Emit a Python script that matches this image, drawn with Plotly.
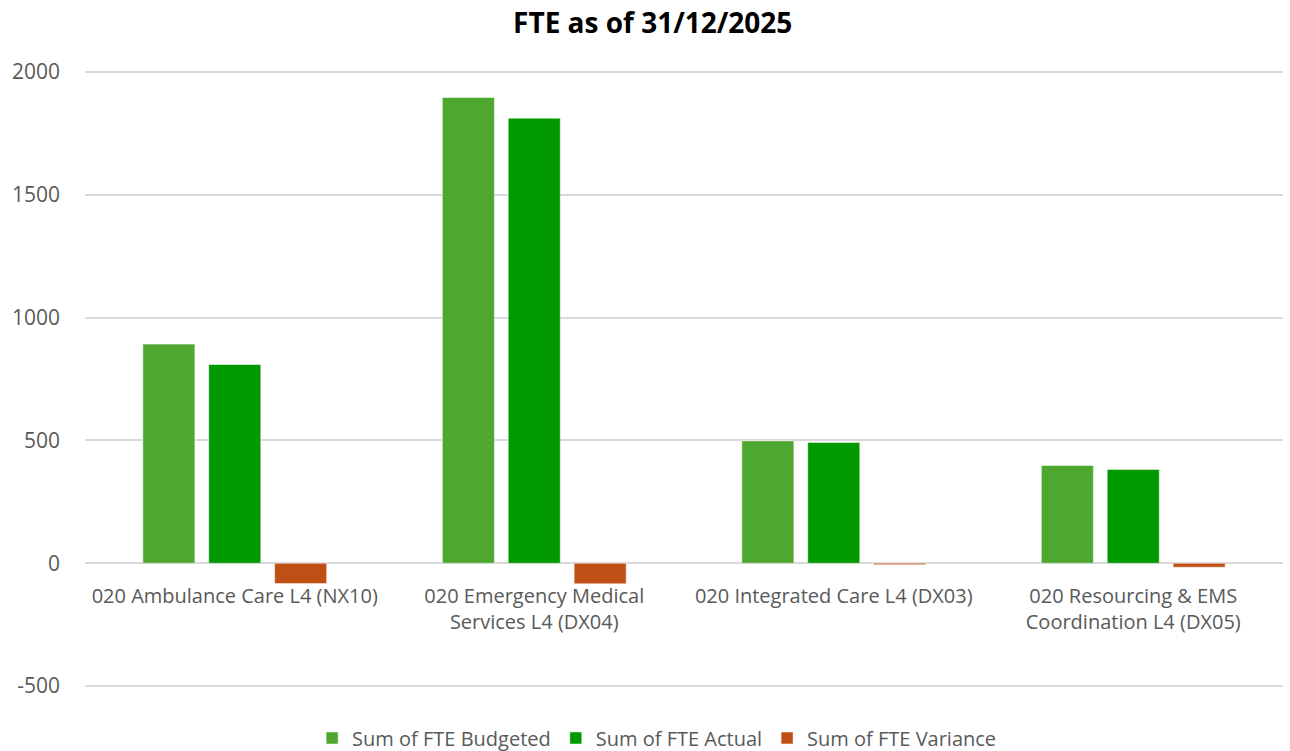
import plotly.graph_objects as go

categories = [
    "020 Ambulance Care L4 (NX10)",
    "020 Emergency Medical<br>Services L4 (DX04)",
    "020 Integrated Care L4 (DX03)",
    "020 Resourcing & EMS<br>Coordination L4 (DX05)",
]
budgeted = [892, 1896, 498, 398]
actual = [809, 1812, 492, 382]
variance = [-83, -84, -6, -16]

y_ticks = [-500, 0, 500, 1000, 1500, 2000]
y_tick_labels = ["-500", "0", "500", "1000", "1500", "2000"]

series = [
    ("Sum of FTE Budgeted", budgeted, "#4ea72e"),
    ("Sum of FTE Actual", actual, "#009900"),
    ("Sum of FTE Variance", variance, "#c04f15"),
]

font_family = "Open Sans, Noto Sans, sans-serif"
grey = "#595959"
y_lo, y_hi = -512, 2012

fig = go.Figure()
for name, vals, col in series:
    fig.add_bar(
        x=categories,
        y=vals,
        name=name,
        marker=dict(color=col, line=dict(color="rgba(255,255,255,0.5)", width=1)),
    )

fig.update_layout(
    width=1290,
    height=751,
    barmode="group",
    bargap=0.34,
    bargroupgap=0.21,
    plot_bgcolor="white",
    paper_bgcolor="white",
    margin=dict(l=85, r=7, t=69, b=62, autoexpand=False),
    font=dict(family=font_family, color=grey, size=17),
    title=dict(
        text="<b>FTE as of 31/12/2025</b>",
        x=0.506,
        xanchor="center",
        y=1 - 23 / 751,
        yanchor="middle",
        font=dict(family=font_family, size=28, color="black"),
    ),
    legend=dict(
        orientation="h",
        x=0.509,
        xanchor="center",
        xref="container",
        yref="container",
        y=1 - 738 / 751,
        yanchor="middle",
        font=dict(size=20, color=grey),
        itemwidth=30,
    ),
    showlegend=True,
)

fig.update_yaxes(
    range=[y_lo, y_hi],
    tickvals=y_ticks,
    ticktext=y_tick_labels,
    automargin=False,
    showgrid=True,
    gridcolor="#d9d9d9",
    gridwidth=1.5,
    zeroline=True,
    zerolinecolor="#d9d9d9",
    zerolinewidth=1.5,
    ticks="",
    ticklabelstandoff=24,
    tickfont=dict(size=21, color=grey),
)
fig.update_xaxes(
    anchor="free",
    position=(0 - y_lo) / (y_hi - y_lo),
    automargin=False,
    showline=False,
    ticks="outside",
    ticklen=15,
    tickcolor="rgba(0,0,0,0)",
    tickfont=dict(size=20, color=grey),
)

fig.write_html(
    "out.html",
    config={"displayModeBar": False},
    post_script="document.body.style.margin='0';",
)
